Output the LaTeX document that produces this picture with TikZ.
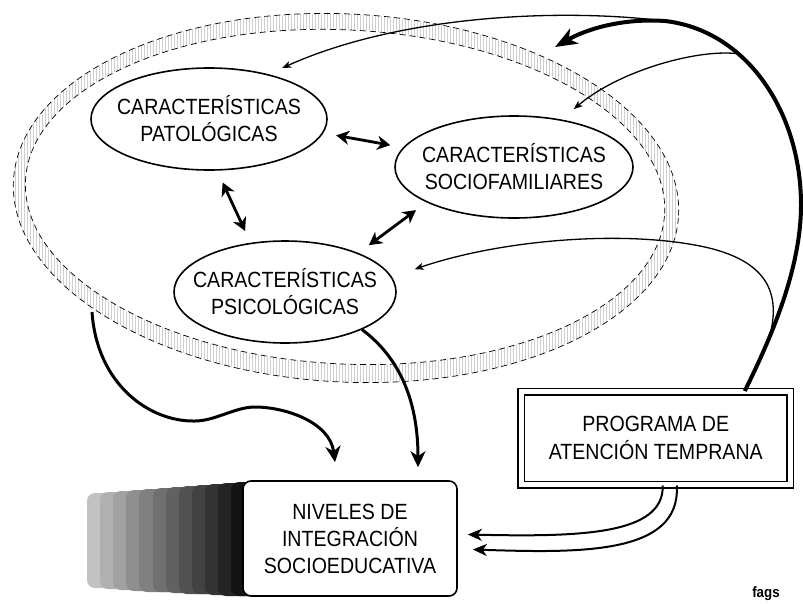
\documentclass[tikz,border=0pt]{standalone}
\usepackage{fontspec}
\setmainfont{Liberation Sans}[FakeStretch=0.89]
\usetikzlibrary{shapes.geometric}
\usetikzlibrary{arrows.meta}
\usetikzlibrary{patterns}

\begin{document}
\begin{tikzpicture}[x=1pt, y=-1pt,
ovalnode/.style={ellipse, draw, line width=1.6pt, inner xsep=-16pt, inner ysep=0pt, align=center, font=\fontsize{22}{27}\selectfont, minimum width=236pt, minimum height=102pt},
progbox/.style={draw, double, line width=1.5pt, double distance=5pt, align=center, minimum width=269pt, minimum height=93pt, font=\fontsize{22}{28}\selectfont},
nivbox/.style={draw, fill=white, rounded corners=8pt, line width=1.6pt, minimum width=214pt, minimum height=115pt, align=center, font=\fontsize{22}{27}\selectfont},
ringline/.style={dash pattern=on 6pt off 4pt, line width=0.7pt},
twoway/.style={{Stealth[length=13pt,width=14pt,inset=4pt]}-{Stealth[length=13pt,width=14pt,inset=4pt]}, line width=2.8pt, shorten <=13pt, shorten >=13pt},
thinedge/.style={-{Stealth[length=9pt,width=7pt,inset=2.5pt]}, line width=1.3pt},
thickedge/.style={-{Stealth[length=16pt,width=15pt,inset=5pt]}, line width=3pt},
bigedge/.style={-{Stealth[length=22pt,width=17pt,inset=6pt]}, line width=4pt},
progedge/.style={-{Stealth[length=14pt,width=12pt,inset=4pt]}, line width=2pt}
]
\useasboundingbox (0,0) rectangle (803,603);

%Ring
\fill[pattern=vertical lines, pattern color=gray!38, even odd rule, rotate around={-3:(346,198)}]
  (346,198) ellipse [x radius=333pt, y radius=184pt] (345,197) ellipse [x radius=320pt, y radius=167pt];
\draw[ringline, rotate around={-3:(346,198)}] (346,198) ellipse [x radius=333pt, y radius=184pt];
\draw[ringline, rotate around={-3:(346,198)}] (345,197) ellipse [x radius=320pt, y radius=167pt];

%Levels
\fill[black!24, rounded corners=8pt] (87,493) rectangle (300,588);
\fill[black!31, rounded corners=8pt] (100,492) rectangle (300,589);
\fill[black!37, rounded corners=8pt] (113,491) rectangle (300,590);
\fill[black!44, rounded corners=8pt] (126,490) rectangle (300,591);
\fill[black!50, rounded corners=8pt] (139,489) rectangle (300,592);
\fill[black!56, rounded corners=8pt] (153,488) rectangle (300,592);
\fill[black!62, rounded corners=8pt] (166,487) rectangle (300,593);
\fill[black!68, rounded corners=8pt] (179,486) rectangle (300,594);
\fill[black!74, rounded corners=8pt] (192,485) rectangle (300,594);
\fill[black!80, rounded corners=8pt] (205,484) rectangle (300,595);
\fill[black!86, rounded corners=8pt] (218,483) rectangle (300,596);
\fill[black!92, rounded corners=8pt] (231,482) rectangle (300,596);

%Nodes
\node[ovalnode]                      (patol)  at (209,119)   {CARACTERÍSTICAS\\PATOLÓGICAS};
\node[ovalnode, minimum width=238pt] (socio)  at (514,167)   {CARACTERÍSTICAS\\SOCIOFAMILIARES};
\node[ovalnode, minimum width=222pt] (psico)  at (285,292)   {CARACTERÍSTICAS\\PSICOLÓGICAS};
\node[nivbox]                        (niv)    at (350,538.5) {NIVELES DE\\INTEGRACIÓN\\SOCIOEDUCATIVA};
\node[progbox]                       (prog)   at (655.75,438.25) {PROGRAMA DE\\ATENCIÓN TEMPRANA};
\node[font=\fontsize{15}{16}\selectfont\bfseries] (sig) at (766,594) {fags};

\coordinate (topsplit) at (665,21);
\coordinate (midsplit) at (740,54);
\coordinate (lowsplit) at (770,335);
\coordinate (ringtop)  at (555,47);
\coordinate (ringsw)   at (92,312);

%Lines
\draw[twoway] (patol.-7)  -- (socio.170);
\draw[twoway] (patol.-81) -- (psico.125);
\draw[twoway] (socio.202) -- (psico.28);

\draw[thickedge] (psico.-26) .. controls (392,352) and (418,390) .. ([xshift=68pt,yshift=13pt]niv.north);
\draw[thickedge] (ringsw) .. controls (97,385) and (150,422) .. (195,421)
  .. controls (215,421) and (235,407) .. (255,407)
  .. controls (285,407) and (330,422) .. ([xshift=-15pt,yshift=18pt]niv.north);

\draw[bigedge] ([xshift=89pt]prog.north) .. controls (770,340) and (801,270) .. (801,205)
  .. controls (801,110) and (745,30) .. (topsplit) .. controls (620,18) and (585,30) .. (ringtop);
\draw[thinedge, shorten >=15pt] (topsplit) .. controls (560,8) and (400,15) .. (patol.37);
\draw[thinedge, shorten >=16pt] (midsplit) .. controls (700,48) and (620,70) .. (socio.45);
\draw[thinedge, shorten >=24pt] (lowsplit) .. controls (780,295) and (770,260) .. (700,246)
  .. controls (620,230) and (500,240) .. (psico.8);

\draw[progedge] ([xshift=7pt]prog.south) .. controls (664,535) and (580,537) .. ([xshift=10pt,yshift=4pt]niv.east);
\draw[progedge] ([xshift=21pt]prog.south) .. controls (681,555) and (580,553) .. ([xshift=15pt,yshift=-11pt]niv.east);

\end{tikzpicture}
\end{document}
